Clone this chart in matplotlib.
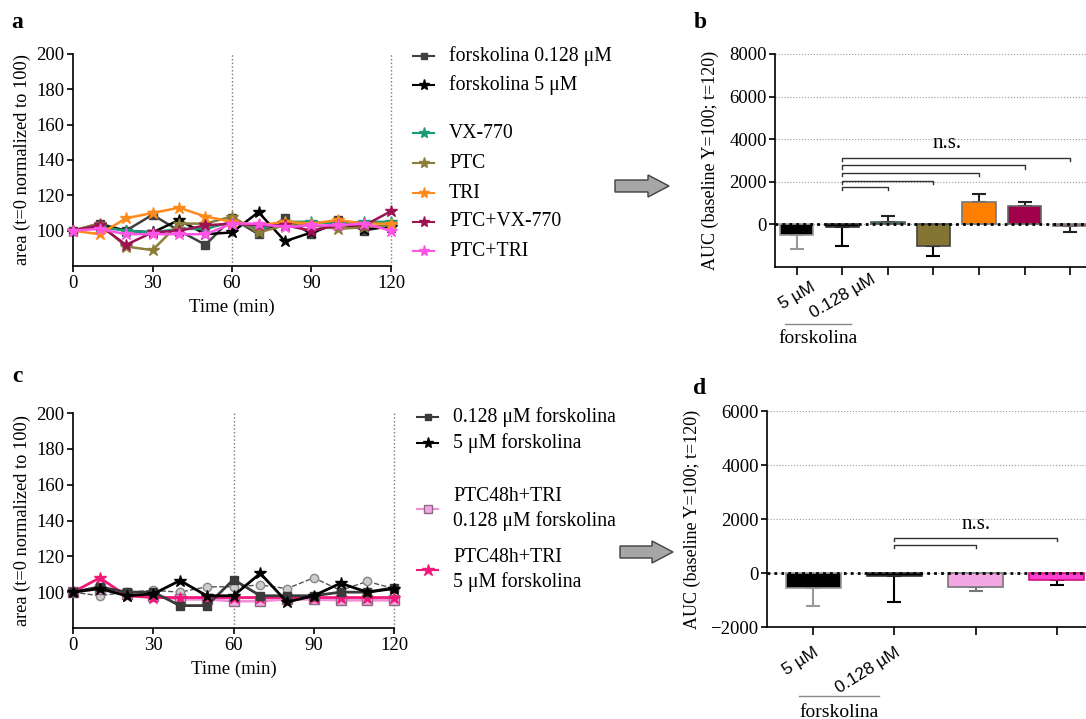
import matplotlib
matplotlib.use("Agg")
import matplotlib.pyplot as plt
from matplotlib.lines import Line2D
from matplotlib.patches import FancyArrow
import numpy as np

W, H = 1086, 719

plt.rcParams.update({
    "font.family": ["Liberation Serif", "DejaVu Serif"],
    "font.size": 13,
    "axes.linewidth": 1.2,
    "xtick.major.width": 1.2,
    "ytick.major.width": 1.2,
    "xtick.major.size": 4.5,
    "ytick.major.size": 4,
    "axes.spines.top": False,
    "axes.spines.right": False,
})

# ---------------- data: panel a (time courses) ----------------
time_min = [0, 10, 20, 30, 40, 50, 60, 70, 80, 90, 100, 110, 120]
a_fsk_0128 = [100, 104, 100, 109, 100, 92, 107, 98, 107, 98, 106, 100, 103]
a_fsk_5 = [100, 103, 100, 99, 106, 98, 99, 110.5, 94, 99, 104, 101, 102]
a_vx770 = [100, 102, 100, 99, 101, 101, 105, 101, 105, 105, 104, 105, 105]
a_ptc = [100, 104, 91, 89, 104, 104, 108, 99, 103, 103, 101, 102, 103]
a_tri = [100, 98, 107, 110, 113, 108, 105, 103, 105, 104, 106, 104, 104]
a_ptc_vx = [100, 103, 92, 99, 100, 103, 104, 103, 103, 100, 103, 103, 111]
a_ptc_tri = [100, 101, 98, 98, 98, 98, 104, 104, 102, 103, 103, 104, 100]

# ---------------- data: panel b (AUC bars) ----------------
b_means = [-500, -100, 120, -1000, 1030, 850, -80]
b_err = [670, 930, 270, 480, 380, 180, 290]
b_ticklabels = ["5 µM", "0.128 µM", "", "", "", "", ""]

# ---------------- data: panel c (time courses) ----------------
c_fsk_0128 = [100, 103, 100, 100, 92.5, 92.5, 107, 98, 98, 98, 100, 100, 102.5]
c_fsk_5 = [100, 102, 98, 99, 106.5, 98, 98, 110.5, 94.5, 98, 105, 100, 102]
c_ctrl_dashed = [100, 98, 100, 101, 100, 103, 103, 104, 102, 108, 101, 106, 102]
c_ptc48_tri_0128 = [100, 102, 99, 98, 96, 96, 95, 95, 96, 96, 95.5, 95.5, 95.5]
c_ptc48_tri_5 = [100, 108, 98, 97, 97, 97, 97, 97, 97, 97, 97, 97, 97]

# ---------------- data: panel d (AUC bars) ----------------
d_means = [-550, -110, -525, -275]
d_err = [660, 950, 125, 185]
d_ticklabels = ["5 µM", "0.128 µM", "", ""]

fig = plt.figure(figsize=(W / 100, H / 100), dpi=100)


def ax_at(left, top, right, bottom):
    return fig.add_axes([left / W, 1 - bottom / H, (right - left) / W, (bottom - top) / H])


def legend_entry(px, py, label, color, marker, mfc=None, mec=None, ms=7):
    x0, x1 = px / W, (px + 21) / W
    y = 1 - py / H
    fig.add_artist(Line2D([x0, (x0 + x1) / 2, x1], [y, y, y], transform=fig.transFigure,
                          color=color, lw=1.5, marker=marker, markevery=[1], ms=ms,
                          mfc=mfc or color, mec=mec or color))
    fig.text((px + 36) / W, y, label, fontsize=14.2, va="center", ha="left", linespacing=1.3)


def style_line_ax(ax):
    ax.set_xlim(0, 120)
    ax.set_ylim(80, 200)
    ax.set_xticks([0, 30, 60, 90, 120])
    ax.set_yticks([100, 120, 140, 160, 180, 200])
    ax.tick_params(labelsize=13.5, pad=2)
    ax.axvline(60, color="#777777", ls=":", lw=1, zorder=1)
    ax.axvline(120, color="#777777", ls=":", lw=1, zorder=1, clip_on=False)
    ax.set_xlabel("Time (min)", fontsize=13.5, labelpad=5)
    ax.set_ylabel("area (t=0 normalized to 100)", fontsize=13.2, labelpad=4)


def draw_bars(ax, means, err, faces, edges, errcols, width):
    x = np.arange(len(means))
    for i in range(len(means)):
        lo = err[i] if means[i] < 0 else 0
        hi = err[i] if means[i] >= 0 else 0
        ax.errorbar(x[i], means[i], yerr=[[lo], [hi]], color=errcols[i], lw=1.5,
                    capsize=5, capthick=1.5, zorder=2)
    ax.bar(x, means, width, color=faces, edgecolor=edges, linewidth=1.2, zorder=3)
    ax.axhline(0, color="black", ls=(0, (1, 1.5)), lw=2, zorder=5)
    ax.grid(axis="y", color="#999999", ls=":", lw=0.8, zorder=0)
    ax.set_axisbelow(True)
    ax.tick_params(axis="x", length=6)
    ax.tick_params(axis="y", labelsize=13.5, pad=2)
    ax.set_ylabel("AUC (baseline Y=100; t=120)", fontsize=13, labelpad=7)


def bracket(ax, x1, x2, y, drop, color="black"):
    ax.plot([x1, x1, x2, x2], [y - drop, y, y, y - drop], color=color, lw=1, zorder=4)


def forsk_group(ax, x0, x1, yline, ytext):
    tr = ax.get_xaxis_transform()
    ax.plot([x0, x1], [yline, yline], color="#888888", lw=1, transform=tr, clip_on=False)
    ax.text((x0 + x1) / 2, ytext, "forskolina", transform=tr, ha="center", va="center", fontsize=14)


# ---------------- panel a ----------------
ax_a = ax_at(73, 54, 391, 266)
series_a = [
    (a_fsk_0128, "#404040", "s", 6),
    (a_fsk_5, "black", "*", 9),
    (a_vx770, "#1b9a76", "*", 9),
    (a_ptc, "#8b7d3a", "*", 9),
    (a_tri, "#ff8a1c", "*", 9),
    (a_ptc_vx, "#9c1252", "*", 9),
    (a_ptc_tri, "#ff55e6", "*", 9),
]
for vals, col, mk, ms in series_a:
    ax_a.plot(time_min, vals, color=col, lw=1.8, marker=mk, ms=ms, clip_on=False, zorder=3)
style_line_ax(ax_a)

labels_a = ["forskolina 0.128 μM", "forskolina 5 μM", "VX-770", "PTC", "TRI", "PTC+VX-770", "PTC+TRI"]
ys_a = [56, 85, 133, 163, 193, 222, 251]
for (vals, col, mk, ms), lab, py in zip(series_a, labels_a, ys_a):
    legend_entry(413, py, lab, col, mk, ms=ms - 1)

# ---------------- panel b ----------------
ax_b = ax_at(775, 54, 1086, 267)
b_faces = ["black", "black", "#1b9a76", "#857534", "#ff8000", "#a0004a", "#a855a0"]
b_edges = ["#999999", "#333333", "#555555", "#444444", "#777777", "#666666", "#777777"]
b_errc = ["#999999", "black", "#222222", "black", "#222222", "#222222", "#222222"]
draw_bars(ax_b, b_means, b_err, b_faces, b_edges, b_errc, 0.73)
ax_b.set_xlim(-0.48, 6.35)
ax_b.set_ylim(-2000, 8000)
ax_b.set_yticks([0, 2000, 4000, 6000, 8000])
ax_b.set_xticks(np.arange(len(b_means)))
ax_b.set_xticklabels(b_ticklabels, rotation=30, ha="center", va="center", rotation_mode="anchor",
                     family=["Liberation Sans"], fontsize=12.5)
ax_b.tick_params(axis="x", pad=15)
for x2, y in zip([2, 3, 4, 5, 6], [1750, 2060, 2400, 2770, 3125]):
    bracket(ax_b, 1, x2, y, 150, color="#333333")
ax_b.text(3.3, 3330, "n.s.", ha="center", va="bottom", fontsize=15)
forsk_group(ax_b, -0.26, 1.2, -0.268, -0.335)

# ---------------- panel c ----------------
ax_c = ax_at(73, 413, 394, 628)
ax_c.plot(time_min, c_ctrl_dashed, color="#555555", lw=1, ls="--", marker="o", ms=6,
          mfc="#cccccc", mec="#888888", clip_on=False, zorder=2)
ax_c.plot(time_min, c_ptc48_tri_0128, color="#f58ed8", lw=2, marker="s", ms=7,
          mfc="#f2a8e2", mec="#8a6a80", clip_on=False, zorder=3)
ax_c.plot(time_min, c_ptc48_tri_5, color="#f0197a", lw=2, marker="*", ms=9, clip_on=False, zorder=3)
ax_c.plot(time_min, c_fsk_0128, color="#3a3a3a", lw=2, marker="s", ms=6, clip_on=False, zorder=4)
ax_c.plot(time_min, c_fsk_5, color="black", lw=2, marker="*", ms=9, clip_on=False, zorder=4)
style_line_ax(ax_c)

legend_entry(417, 417, "0.128 μM forskolina", "#3a3a3a", "s", ms=5)
legend_entry(417, 443, "5 μM forskolina", "black", "*", ms=8)
legend_entry(417, 509, "PTC48h+TRI\n0.128 μM forskolina", "#f58ed8", "s", mfc="#f2a8e2", mec="#8a6a80", ms=6)
legend_entry(417, 570, "PTC48h+TRI\n5 μM forskolina", "#f0197a", "*", ms=9)

# ---------------- panel d ----------------
ax_d = ax_at(767, 411, 1086, 627)
d_faces = ["black", "black", "#f4a7e3", "#ff3fd0"]
d_edges = ["#999999", "#333333", "#777777", "#d0107a"]
d_errc = ["#999999", "black", "#777777", "black"]
draw_bars(ax_d, d_means, d_err, d_faces, d_edges, d_errc, 0.68)
ax_d.set_xlim(-0.57, 3.36)
ax_d.set_ylim(-2000, 6000)
ax_d.set_yticks([-2000, 0, 2000, 4000, 6000])
ax_d.set_xticks(np.arange(len(d_means)))
ax_d.set_xticklabels(d_ticklabels, rotation=32, ha="right", rotation_mode="anchor",
                     family=["Liberation Sans"], fontsize=12.5)
ax_d.tick_params(axis="x", pad=7)
bracket(ax_d, 1, 2, 1040, 130, color="#333333")
bracket(ax_d, 1, 3, 1310, 130, color="#333333")
ax_d.text(2.0, 1460, "n.s.", ha="center", va="bottom", fontsize=15)
forsk_group(ax_d, -0.17, 0.81, -0.32, -0.395)

# ---------------- panel letters and arrows ----------------
for lab, px, py in [("a", 17, 22), ("b", 700, 22), ("c", 17, 377), ("d", 700, 389)]:
    fig.text(px / W, 1 - py / H, lab, fontsize=17, fontweight="bold", ha="center", va="center")

for tail, tip, cy in [(615, 669, 186), (620, 673, 552)]:
    fig.add_artist(FancyArrow(tail / W, 1 - cy / H, (tip - tail) / W, 0, width=12 / H,
                              head_width=22 / H, head_length=21 / W, length_includes_head=True,
                              transform=fig.transFigure, facecolor="#a6a6a6",
                              edgecolor="#404040", lw=1))

fig.savefig("out.png", dpi=100)
